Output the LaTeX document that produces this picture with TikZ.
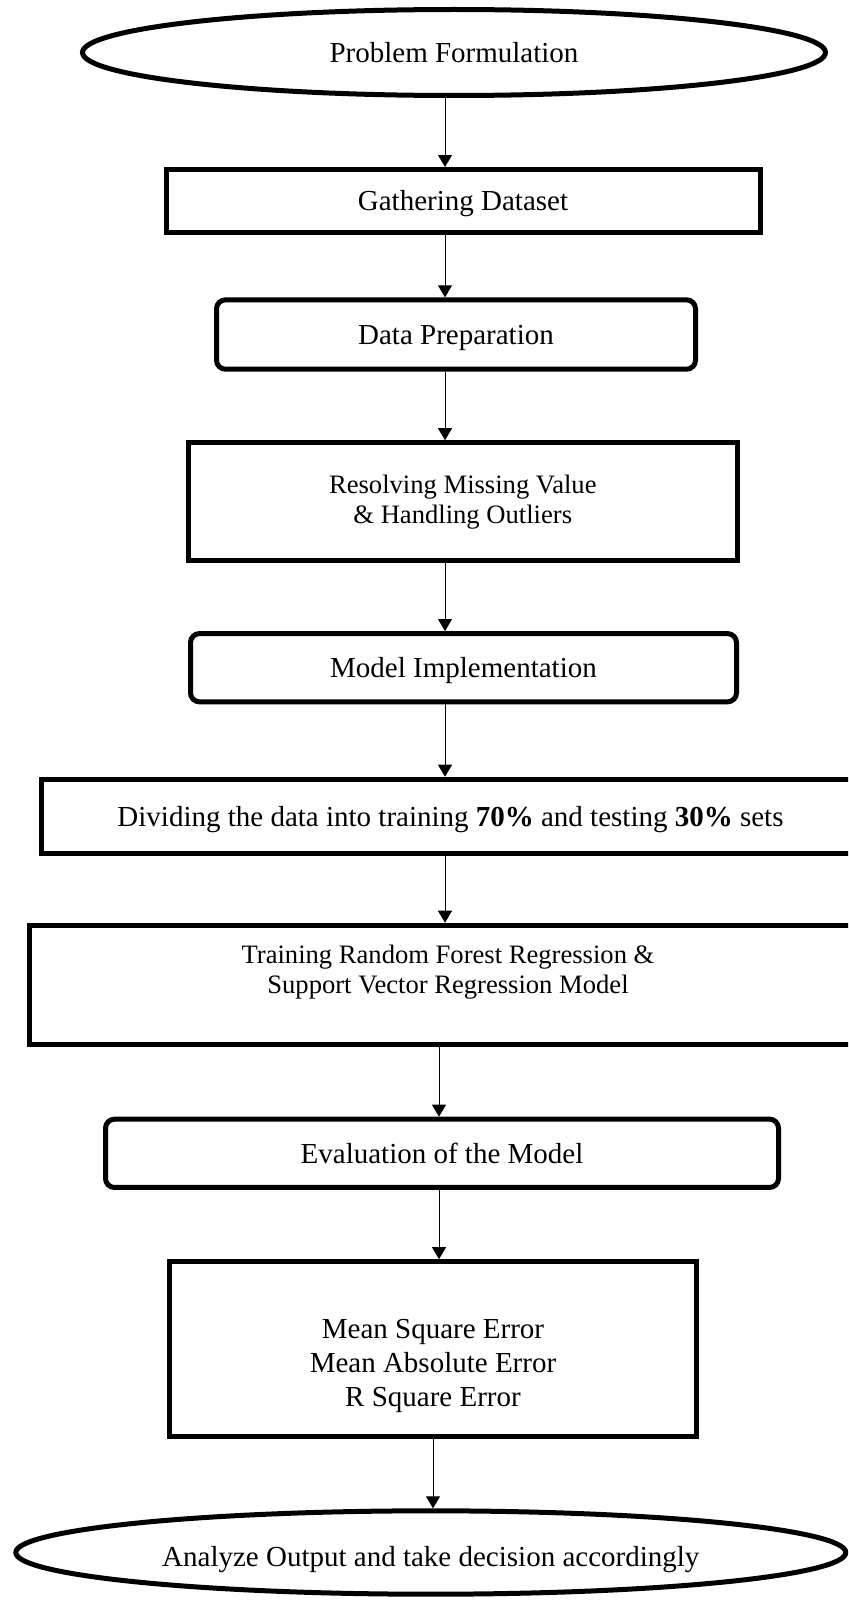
\documentclass[tikz,border=0pt]{standalone}
\usepackage{fontspec}
\setmainfont{Liberation Serif}
\usetikzlibrary{shapes.geometric,arrows.meta}

% text sizes used in the chart
\newcommand{\mainsize}{\fontsize{14.5}{17}\selectfont}
\newcommand{\smallsize}{\fontsize{13.3}{15}\selectfont}
\newcommand{\listsize}{\fontsize{14.5}{16.9}\selectfont}

\tikzset{
  frame/.style={draw=black, line width=2.5pt, inner sep=0pt, fill=white},
  boxnode/.style={frame, rectangle},
  roundnode/.style={frame, rectangle, rounded corners=4.5pt},
  ovalnode/.style={frame, ellipse},
  oneline/.style={font=\mainsize, text height=9.9pt, text depth=0pt},
  conn/.style={draw=black, line width=0.5pt, -{Triangle[length=6pt,width=7pt]}},
}

\begin{document}
\begin{tikzpicture}[x=0.5pt, y=-0.5pt]
  \useasboundingbox (0,0) rectangle (848,1600);
  \clip (0,0) rectangle (848,1600);

  % columns of the connectors
  \coordinate (colA) at (445,0);
  \coordinate (colB) at (439,0);
  \coordinate (colC) at (433,0);

  % steps of the workflow
  \node[ovalnode, oneline, minimum width=371.5pt, minimum height=43pt]
    (start) at (454,52.5) {Problem Formulation};
  \node[boxnode, oneline, minimum width=297pt, minimum height=31.5pt]
    (gather) at (463,201) {Gathering Dataset};
  \node[roundnode, oneline, minimum width=239.5pt, minimum height=34.7pt]
    (prep) at (456,334.5) {Data Preparation};
  \node[boxnode, font=\smallsize, align=center, minimum width=274.75pt, minimum height=59pt]
    (clean) at (462.8,501.7) {Resolving Missing Value\\ \& Handling Outliers};
  \node[roundnode, oneline, minimum width=273pt, minimum height=34.15pt]
    (impl) at (463.5,667.7) {Model Implementation};
  \node[boxnode, oneline, minimum width=409pt, minimum height=37pt]
    (split) at (450.5,816.2) {Dividing the data into training \textbf{70\%} and testing \textbf{30\%} sets};
  \node[boxnode, minimum width=419pt, minimum height=59.5pt]
    (train) at (448,984.7) {};
  \node[font=\smallsize, align=center, inner sep=0pt]
    (traintext) at (448,972) {Training Random Forest Regression \&\\Support Vector Regression Model};
  \node[roundnode, oneline, minimum width=336.5pt, minimum height=34.15pt]
    (eval) at (442,1153.3) {Evaluation of the Model};
  \node[boxnode, minimum width=263.75pt, minimum height=87.35pt]
    (metrics) at (432.8,1349) {};
  \node[font=\listsize, align=center, inner sep=0pt]
    (metrictext) at (433,1365.7) {Mean Square Error\\Mean Absolute Error\\R Square Error};
  \node[ovalnode, oneline, text height=13.5pt, minimum width=415pt, minimum height=41.7pt]
    (finish) at (430.8,1552.5) {Analyze Output and take decision accordingly};

  % connectors
  \draw[conn] (start.south -| colA) -- (gather.north -| colA);
  \draw[conn] (gather.south -| colA) -- (prep.north -| colA);
  \draw[conn] (prep.south -| colA) -- (clean.north -| colA);
  \draw[conn] (clean.south -| colA) -- (impl.north -| colA);
  \draw[conn] (impl.south -| colA) -- (split.north -| colA);
  \draw[conn] (split.south -| colA) -- (train.north -| colA);
  \draw[conn] (train.south -| colB) -- (eval.north -| colB);
  \draw[conn] (eval.south -| colB) -- (metrics.north -| colB);
  \draw[conn] (metrics.south -| colC) -- (finish.north -| colC);
\end{tikzpicture}
\end{document}
